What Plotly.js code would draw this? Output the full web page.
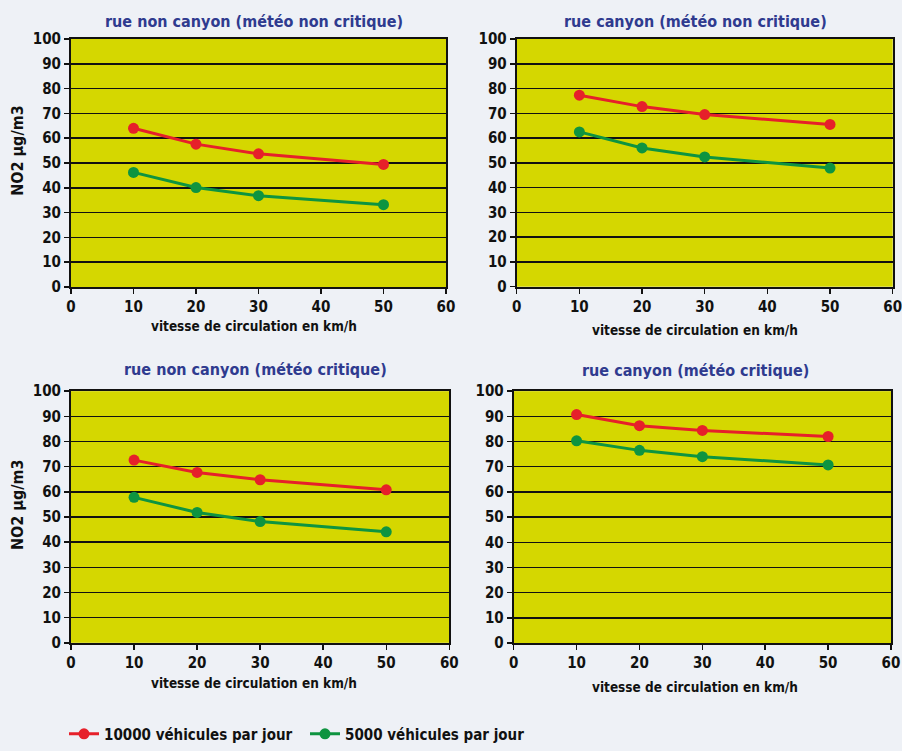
<!DOCTYPE html>
<html>
<head>
<meta charset="utf-8">
<script src="https://cdn.plot.ly/plotly-3.0.1.min.js"></script>
<style>
  html, body { margin: 0; padding: 0; background: #eef1f6; }
  #chart { width: 902px; height: 751px; }
</style>
</head>
<body>
<div id="chart"></div>
<script>
// ---- Data ----
const speeds = [10, 20, 30, 50];
const panelTitles = [
  "rue non canyon (météo non critique)",
  "rue canyon (météo non critique)",
  "rue non canyon (météo critique)",
  "rue canyon (météo critique)"
];
const seriesNames = ["10000 véhicules par jour", "5000 véhicules par jour"];
const v10000_p1 = [64.0, 57.6, 53.7, 49.4];
const v5000_p1  = [46.2, 40.1, 36.8, 33.2];
const v10000_p2 = [77.3, 72.7, 69.5, 65.5];
const v5000_p2  = [62.5, 56.0, 52.4, 47.9];
const v10000_p3 = [72.6, 67.7, 64.8, 60.8];
const v5000_p3  = [57.8, 51.8, 48.2, 44.1];
const v10000_p4 = [90.7, 86.3, 84.4, 82.0];
const v5000_p4  = [80.3, 76.5, 74.0, 70.7];
const xTicks = [0, 10, 20, 30, 40, 50, 60];
const yTicks = [0, 10, 20, 30, 40, 50, 60, 70, 80, 90, 100];
const xLabel = "vitesse de circulation en km/h";
const yLabel = "NO2 µg/m3";

// ---- Style ----
const FONT = "'Liberation Sans Narrow', 'DejaVu Sans Condensed', 'Roboto', sans-serif";
const RED = "#e6202a";
const GREEN = "#0e9440";
const PLOTBG = "#d5d700";
const TITLE_COLOR = "#2f3b8f";

const redSeries = [v10000_p1, v10000_p2, v10000_p3, v10000_p4];
const greenSeries = [v5000_p1, v5000_p2, v5000_p3, v5000_p4];

const W = 902, H = 751;
// pixel boxes of the plot areas [left, right, top, bottom]
const boxes = [
  [71, 446, 39.3, 289.3],
  [516.7, 892.7, 39.3, 289],
  [71, 449.3, 394.3, 648],
  [513.7, 891, 394.3, 648.3]
];

const traces = [];
const layout = {
  width: W, height: H,
  margin: {l: 0, r: 0, t: 0, b: 0},
  paper_bgcolor: "#eef1f6",
  plot_bgcolor: PLOTBG,
  font: {family: FONT, color: "#111", size: 13},
  showlegend: true,
  legend: {
    orientation: "h",
    x: 64 / W, xanchor: "left",
    y: 1 - 740 / H, yanchor: "middle",
    bgcolor: "rgba(0,0,0,0)",
    font: {family: FONT, size: 15, color: "#111", weight: "bold"},
    entrywidth: 196,
    itemwidth: 30,
    tracegroupgap: 0
  },
  annotations: [],
  hovermode: false
};

boxes.forEach((b, i) => {
  const n = i + 1;
  const xa = "x" + (n === 1 ? "" : n);
  const ya = "y" + (n === 1 ? "" : n);
  const axX = "xaxis" + (n === 1 ? "" : n);
  const axY = "yaxis" + (n === 1 ? "" : n);
  layout[axX] = {
    domain: [b[0] / W, b[1] / W],
    anchor: ya,
    range: [0, 60],
    tickvals: xTicks,
    ticktext: xTicks.map(String),
    showgrid: false,
    zeroline: false,
    showline: true, linecolor: "#111", linewidth: 2, mirror: true,
    ticks: "outside", ticklen: 5, tickwidth: 1.5, tickcolor: "#111",
    tickfont: {family: FONT, size: 15, color: "#111", weight: "bold"},
    ticklabeloverflow: "allow",
    fixedrange: true
  };
  layout[axY] = {
    domain: [1 - b[3] / H, 1 - b[2] / H],
    anchor: xa,
    range: [0, 100],
    tickvals: yTicks,
    ticktext: yTicks.map(String),
    showgrid: true, gridcolor: "#111", gridwidth: 1.5,
    zeroline: false,
    showline: true, linecolor: "#111", linewidth: 2, mirror: true,
    ticks: "outside", ticklen: 5, tickwidth: 1.5, tickcolor: "#111",
    tickfont: {family: FONT, size: 15, color: "#111", weight: "bold"},
    fixedrange: true
  };
  traces.push({
    x: speeds, y: redSeries[i], xaxis: xa, yaxis: ya,
    type: "scatter", mode: "lines+markers",
    name: seriesNames[0], legendgroup: "a", showlegend: i === 0,
    line: {color: RED, width: 3},
    marker: {color: RED, size: 11}
  });
  traces.push({
    x: speeds, y: greenSeries[i], xaxis: xa, yaxis: ya,
    type: "scatter", mode: "lines+markers",
    name: seriesNames[1], legendgroup: "b", showlegend: i === 0,
    line: {color: GREEN, width: 3},
    marker: {color: GREEN, size: 11}
  });
});

// panel titles
const titleCenters = [[254, 22], [695, 22], [255, 372], [695, 373]];
titleCenters.forEach((c, i) => {
  layout.annotations.push({
    text: panelTitles[i], xref: "paper", yref: "paper",
    x: c[0] / W, y: 1 - c[1] / H, xanchor: "center", yanchor: "middle",
    showarrow: false,
    font: {family: FONT, size: 16, color: TITLE_COLOR, weight: "bold"}
  });
});
// x-axis titles
const xTitleCenters = [[254, 329], [695, 333], [254, 688], [695, 693]];
xTitleCenters.forEach(c => {
  layout.annotations.push({
    text: xLabel, xref: "paper", yref: "paper",
    x: c[0] / W, y: 1 - c[1] / H, xanchor: "center", yanchor: "middle",
    showarrow: false,
    font: {family: FONT, size: 13.5, color: "#111", weight: "bold"}
  });
});
// y-axis titles (left panels only)
[[18, 152], [18, 509]].forEach(c => {
  layout.annotations.push({
    text: yLabel, xref: "paper", yref: "paper",
    x: c[0] / W, y: 1 - c[1] / H, xanchor: "center", yanchor: "middle",
    textangle: -90, showarrow: false,
    font: {family: FONT, size: 16, color: "#111", weight: "bold"}
  });
});

Plotly.newPlot("chart", traces, layout, {staticPlot: true, displayModeBar: false});
</script>
</body>
</html>
